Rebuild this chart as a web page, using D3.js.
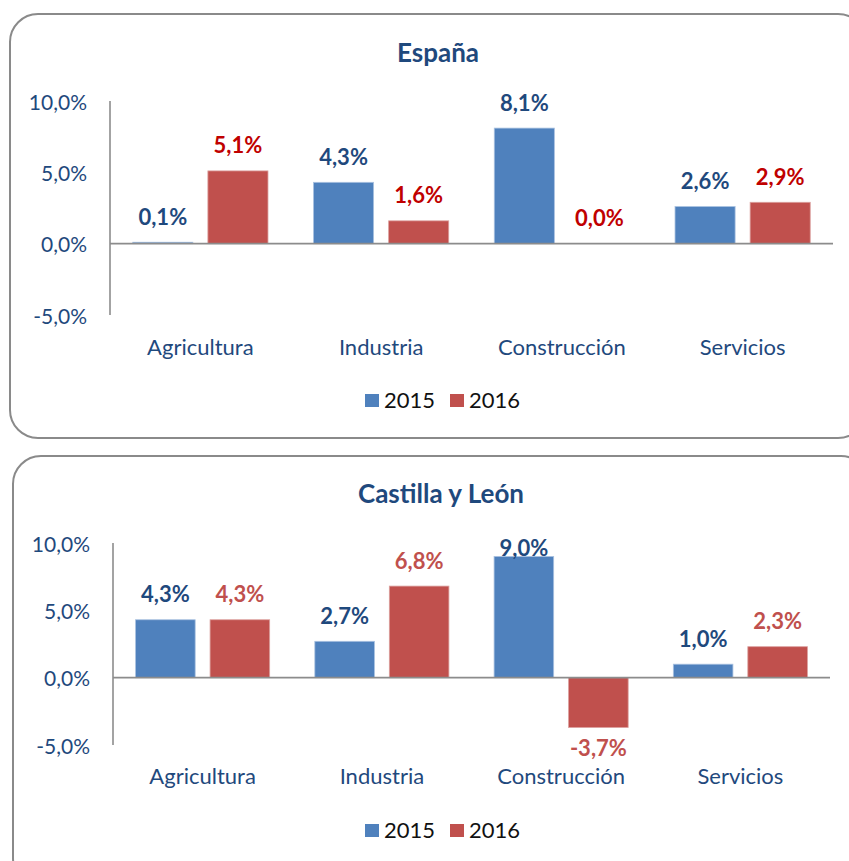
<!DOCTYPE html>
<html lang="es">
<head>
<meta charset="utf-8">
<title>Variación del empleo por sectores</title>
<script src="https://cdn.jsdelivr.net/npm/d3@7"></script>
<style>
  html, body { margin: 0; padding: 0; background: #fff; }
  svg { display: block; font-family: Lato, "Open Sans", sans-serif; }
</style>
</head>
<body>
<svg id="chart" width="849" height="861"></svg>
<script>
// Sector categories and yearly series
const categories = ["Agricultura", "Industria", "Construcción", "Servicios"];
const seriesNames = ["2015", "2016"];
const espana2015 = [0.1, 4.3, 8.1, 2.6];
const espana2016 = [5.1, 1.6, 0.0, 2.9];
const cyl2015 = [4.3, 2.7, 9.0, 1.0];
const cyl2016 = [4.3, 6.8, -3.7, 2.3];
const yTicks = [-5, 0, 5, 10];

const barColors = ["#4F81BD", "#C0504D"];
const textBlue = "#1F497D";

const svg = d3.select("#chart");
// Spanish number style with a plain hyphen for negatives
const fmt = v => (v < 0 ? "-" : "") + Math.abs(v).toFixed(1).replace(".", ",") + "%";

function drawPanel(opt) {
  const g = svg.append("g");

  // rounded frame
  g.append("rect")
    .attr("x", opt.frame.x).attr("y", opt.frame.y)
    .attr("width", opt.frame.w).attr("height", opt.frame.h)
    .attr("rx", 28).attr("ry", 28)
    .attr("fill", "#fff").attr("stroke", "#8a8a8a").attr("stroke-width", 2);

  // title
  g.append("text")
    .attr("x", opt.frame.x + 428).attr("y", opt.titleY)
    .attr("text-anchor", "middle").attr("dominant-baseline", "central")
    .attr("font-size", 26).attr("font-weight", 700).attr("fill", textBlue)
    .text(opt.title);

  const y = d3.scaleLinear().domain([-5, 10]).range([opt.plot.bottom, opt.plot.top]);
  const x0 = d3.scaleBand().domain(categories)
    .range([opt.plot.left, opt.plot.right]).paddingInner(0.252).paddingOuter(0.126);
  const x1 = d3.scaleBand().domain(seriesNames)
    .range([0, x0.bandwidth()]).paddingInner(0.2);

  // y tick labels
  g.append("g").selectAll("text").data(yTicks).join("text")
    .attr("x", opt.plot.left - 23).attr("y", d => y(d))
    .attr("text-anchor", "end").attr("dominant-baseline", "central")
    .attr("font-size", 21).attr("fill", textBlue)
    .text(d => fmt(d));

  const rows = categories.map((c, i) => ({
    cat: c,
    vals: seriesNames.map((s, j) => ({ cat: c, s, j, v: opt.series[j][i] }))
  }));

  const groups = g.append("g").selectAll("g").data(rows).join("g")
    .attr("transform", d => `translate(${x0(d.cat)},0)`);

  groups.selectAll("rect").data(d => d.vals).join("rect")
    .attr("x", d => x1(d.s))
    .attr("width", x1.bandwidth())
    .attr("y", d => y(Math.max(0, d.v)))
    .attr("height", d => Math.abs(y(d.v) - y(0)))
    .attr("fill", d => barColors[d.j])
    .attr("stroke", d => d.j === 0 ? "#a9c1e0" : "#dba09e")
    .attr("stroke-width", 0.8);

  // value labels
  groups.selectAll("text").data(d => d.vals).join("text")
    .attr("x", d => x1(d.s) + x1.bandwidth() / 2)
    .attr("y", d => d.v < 0 ? y(d.v) + 20 : Math.max(opt.labelMinY, y(d.v) - 26))
    .attr("text-anchor", "middle").attr("dominant-baseline", "central")
    .attr("font-size", 22).attr("font-weight", 700)
    .attr("fill", d => d.j === 0 ? textBlue : opt.label2016)
    .text(d => fmt(d.v));

  // axes lines
  g.append("line")
    .attr("x1", opt.plot.left).attr("x2", opt.plot.left)
    .attr("y1", opt.plot.top).attr("y2", opt.plot.bottom)
    .attr("stroke", "#8c8c8c").attr("stroke-width", 1.6);
  g.append("line")
    .attr("x1", opt.plot.left).attr("x2", opt.plot.right)
    .attr("y1", y(0)).attr("y2", y(0))
    .attr("stroke", "#8c8c8c").attr("stroke-width", 1.6);

  // category labels
  g.append("g").selectAll("text").data(categories).join("text")
    .attr("x", d => x0(d) + x0.bandwidth() / 2)
    .attr("y", opt.catY)
    .attr("text-anchor", "middle").attr("dominant-baseline", "central")
    .attr("font-size", 22).attr("fill", textBlue)
    .text(d => d);

  // legend
  const lg = g.append("g");
  const legendX = [365, 450];
  seriesNames.forEach((s, j) => {
    lg.append("rect")
      .attr("x", legendX[j]).attr("y", opt.legendY - 6)
      .attr("width", 14).attr("height", 13)
      .attr("fill", barColors[j]);
    lg.append("text")
      .attr("x", legendX[j] + 19).attr("y", opt.legendY - 1)
      .attr("dominant-baseline", "central")
      .attr("font-size", 22).attr("fill", "#111")
      .text(s);
  });
}

drawPanel({
  title: "España",
  frame: { x: 10, y: 14, w: 856, h: 424 },
  titleY: 52,
  plot: { left: 110, right: 833, top: 101, bottom: 315 },
  labelMinY: 98,
  catY: 346,
  legendY: 400,
  series: [espana2015, espana2016],
  label2016: "#C00000"
});

drawPanel({
  title: "Castilla y León",
  frame: { x: 13, y: 456, w: 856, h: 430 },
  titleY: 493,
  plot: { left: 113, right: 830, top: 543, bottom: 745 },
  labelMinY: 547,
  catY: 775,
  legendY: 830,
  series: [cyl2015, cyl2016],
  label2016: "#C0504D"
});
</script>
</body>
</html>
